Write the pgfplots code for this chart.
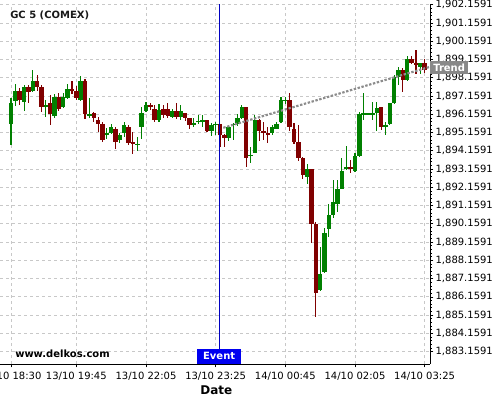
\documentclass[border=0pt]{standalone}
\usepackage{pgfplots}
\pgfplotsset{compat=1.18}
\usepackage{pgfplotstable}
\usepackage{fontspec}
\setmainfont{DejaVu Sans}

\definecolor{upcol}{HTML}{008000}
\definecolor{dncol}{HTML}{800000}
\definecolor{gridcol}{HTML}{C8C8C8}
\definecolor{evtcol}{HTML}{0000F0}
\definecolor{evtline}{HTML}{0000C0}
\definecolor{trendcol}{HTML}{8C8C8C}
\definecolor{trendbox}{HTML}{888888}

% candles by index, O H L C
\pgfplotstableread{
i O H L C
0 1895.642 1897.033 1894.476 1896.776
1 1896.885 1897.833 1896.628 1897.433
3 1896.847 1897.761 1896.338 1897.652
5 1897.449 1898.567 1897.395 1897.981
8 1896.573 1896.940 1896.025 1896.666
10 1896.080 1897.252 1895.938 1897.143
12 1896.557 1897.362 1896.518 1897.143
13 1897.066 1897.855 1897.033 1897.542
16 1896.940 1898.271 1896.885 1897.981
18 1896.080 1897.033 1895.938 1896.173
22 1895.023 1895.406 1894.804 1895.160
23 1895.149 1895.609 1895.078 1895.461
25 1894.749 1895.149 1894.601 1895.023
26 1895.149 1895.719 1894.941 1895.571
29 1894.503 1894.930 1894.174 1894.547
30 1895.478 1896.584 1894.842 1896.228
31 1896.354 1896.847 1896.283 1896.666
34 1895.861 1896.759 1895.751 1896.392
37 1895.993 1896.464 1895.938 1896.321
39 1895.993 1896.666 1895.845 1896.321
42 1895.609 1895.938 1895.445 1895.653
43 1895.762 1896.091 1895.626 1895.806
44 1895.790 1896.118 1895.478 1895.828
46 1895.259 1895.708 1894.968 1895.554
47 1895.598 1895.735 1895.023 1895.642
50 1894.875 1895.461 1894.711 1895.461
51 1895.598 1895.660 1894.749 1895.642
52 1895.626 1896.212 1895.554 1895.954
53 1895.954 1896.666 1895.883 1896.557
55 1893.900 1894.366 1893.490 1893.955
56 1894.054 1896.146 1894.021 1895.845
60 1895.149 1895.571 1895.023 1895.445
61 1895.379 1895.751 1895.335 1895.626
62 1895.751 1897.104 1895.708 1896.940
63 1896.913 1897.104 1896.721 1896.967
68 1892.739 1893.424 1892.328 1893.161
71 1886.534 1888.906 1886.496 1887.410
72 1887.536 1889.913 1887.481 1889.639
73 1889.858 1891.228 1889.420 1890.642
74 1890.642 1892.558 1890.461 1891.370
75 1891.244 1892.558 1890.822 1892.066
76 1892.066 1893.747 1892.050 1893.051
77 1893.216 1894.421 1893.106 1893.271
79 1893.068 1894.037 1893.013 1893.873
80 1893.884 1896.283 1893.818 1896.212
81 1896.184 1897.362 1895.845 1896.212
82 1896.201 1896.256 1896.146 1896.212
83 1896.184 1896.814 1895.845 1896.212
84 1896.244 1896.814 1895.259 1896.540
86 1895.516 1895.751 1895.023 1895.554
87 1895.626 1896.792 1895.571 1896.792
88 1896.792 1898.309 1896.759 1898.183
89 1898.183 1898.764 1897.761 1898.583
91 1898.035 1899.350 1898.008 1899.186
94 1898.764 1898.994 1898.364 1898.983
}\upcandles

\pgfplotstableread{
i O H L C
2 1897.433 1897.597 1896.666 1896.940
4 1897.652 1897.761 1896.776 1897.395
6 1897.981 1898.309 1897.449 1897.652
7 1897.652 1897.761 1896.299 1896.573
9 1896.776 1897.252 1895.609 1896.173
11 1897.143 1897.362 1896.338 1896.464
14 1897.542 1897.997 1897.307 1897.449
15 1897.433 1897.723 1896.940 1897.066
17 1897.981 1898.090 1895.938 1896.173
19 1896.212 1896.299 1895.751 1895.938
20 1895.845 1896.025 1895.204 1895.626
21 1895.626 1895.751 1894.623 1894.749
24 1895.352 1895.445 1894.240 1894.656
27 1895.445 1895.571 1894.476 1894.568
28 1894.623 1895.215 1894.021 1894.568
32 1896.650 1896.792 1896.392 1896.595
33 1896.447 1896.666 1895.735 1895.861
35 1896.447 1896.694 1895.982 1896.146
36 1896.447 1896.759 1895.938 1896.080
38 1896.321 1896.759 1895.883 1895.993
40 1896.212 1896.228 1895.806 1895.971
41 1895.954 1895.954 1895.390 1895.587
45 1895.845 1895.845 1895.204 1895.259
48 1895.609 1895.626 1894.366 1895.023
49 1895.023 1895.078 1894.366 1894.886
54 1896.557 1896.573 1893.298 1893.791
57 1895.845 1895.938 1894.733 1895.259
58 1895.259 1895.751 1894.749 1895.149
59 1895.149 1895.461 1894.612 1895.040
64 1896.940 1897.351 1895.242 1895.478
65 1895.335 1895.664 1894.530 1894.656
66 1894.656 1895.571 1893.599 1893.747
67 1893.747 1893.835 1892.652 1892.860
69 1893.161 1893.161 1889.146 1890.176
70 1890.149 1890.275 1885.039 1886.353
78 1893.271 1893.654 1892.925 1893.216
85 1896.540 1896.540 1895.324 1895.478
90 1898.583 1898.676 1897.362 1898.035
92 1899.186 1899.350 1898.939 1898.950
93 1898.983 1899.717 1898.364 1898.857
95 1898.983 1899.224 1898.435 1898.583
}\downcandles

\pgfplotsset{
  wick/.style={only marks, mark=*, mark size=0pt, mark options={draw opacity=0, fill opacity=0}, forget plot,
    error bars/.cd, y dir=both, y explicit, error mark=none,
    error bar style={line width=0.85pt,draw=#1,opacity=1}},
  body/.style={only marks, mark=*, mark size=0pt, mark options={draw opacity=0, fill opacity=0}, forget plot,
    error bars/.cd, y dir=both, y explicit, error mark=none,
    error bar style={line width=3.35pt,draw=#1,opacity=1}},
}

\begin{document}
\begin{tikzpicture}[font=\fontsize{7.5}{9}\selectfont]
\begin{axis}[
  scale only axis, width=322.5pt, height=270pt,
  xmin=-2.53, xmax=96.23, ymin=1882.48, ymax=1902.2,
  axis x line*=bottom, axis y line*=right,
  axis line style={black, line width=0.75pt, -},
  tick align=outside, major tick length=2.5pt, minor tick length=1.5pt,
  tick style={black, line width=0.5pt},
  xtick={0,15,31,47,63,79,95},
  xticklabels={13/10 18:30,13/10 19:45,13/10 22:05,13/10 23:25,14/10 00:45,14/10 02:05,14/10 03:25},
  minor x tick num=3,
  ytick={1883.1591,1884.1591,1885.1591,1886.1591,1887.1591,1888.1591,1889.1591,1890.1591,1891.1591,1892.1591,1893.1591,1894.1591,1895.1591,1896.1591,1897.1591,1898.1591,1899.1591,1900.1591,1901.1591,1902.1591},
  yticklabels={{1,883.1591},{1,884.1591},{1,885.1591},{1,886.1591},{1,887.1591},{1,888.1591},{1,889.1591},{1,890.1591},{1,891.1591},{1,892.1591},{1,893.1591},{1,894.1591},{1,895.1591},{1,896.1591},{1,897.1591},{1,898.1591},{1,899.1591},{1,900.1591},{1,901.1591},{1,902.1591}},
  minor y tick num=4,
  grid=major, grid style={gridcol, line width=0.6pt, dash pattern=on 2.25pt off 2.25pt},
  yticklabel style={inner xsep=1.5pt},
]
\addplot[wick=upcol] table[x=i, y expr={(\thisrow{H}+\thisrow{L})/2}, y error expr={(\thisrow{H}-\thisrow{L})/2}] {\upcandles};
\addplot[wick=dncol] table[x=i, y expr={(\thisrow{H}+\thisrow{L})/2}, y error expr={(\thisrow{H}-\thisrow{L})/2}] {\downcandles};
\addplot[body=upcol] table[x=i, y expr={(\thisrow{O}+\thisrow{C})/2}, y error expr={max(abs(\thisrow{O}-\thisrow{C})/2,0.03)}] {\upcandles};
\addplot[body=dncol] table[x=i, y expr={(\thisrow{O}+\thisrow{C})/2}, y error expr={max(abs(\thisrow{O}-\thisrow{C})/2,0.03)}] {\downcandles};
% trend
\addplot[trendcol, line width=1.6pt, dash pattern=on 1.8pt off 1.2pt] coordinates {(48.76,1895.42) (96.23,1898.76)};
% event
\addplot[evtline, line width=0.75pt] coordinates {(47.8,1882.48) (47.8,1902.2)};
\node[fill=evtcol, text=white, font=\fontsize{7.5}{9}\selectfont\bfseries, minimum width=32.5pt, minimum height=11pt, inner sep=0pt, anchor=south] at (axis cs:47.8,1882.48) {Event};
\coordinate (trendlbl) at (axis cs:96.23,1898.73);
\end{axis}
\node[fill=trendbox, text=white, font=\fontsize{7.5}{9}\selectfont\bfseries, minimum width=28.3pt, minimum height=10pt, inner sep=0pt, anchor=west] at (trendlbl) {Trend};
\node[anchor=west, inner sep=0pt, font=\fontsize{7.5}{9}\selectfont\bfseries, text=black!90] at (7.5pt,261.2pt) {GC 5 (COMEX)};
\node[anchor=west, inner sep=0pt, font=\fontsize{7.5}{9}\selectfont\bfseries] at (11.25pt,7.5pt) {www.delkos.com};
\node[inner sep=0pt, font=\fontsize{9}{11}\selectfont\bfseries] at (162.2pt,-19.5pt) {Date};
\pgfresetboundingbox
\useasboundingbox (0,-27pt) rectangle (375pt,273pt);
\end{tikzpicture}
\end{document}
